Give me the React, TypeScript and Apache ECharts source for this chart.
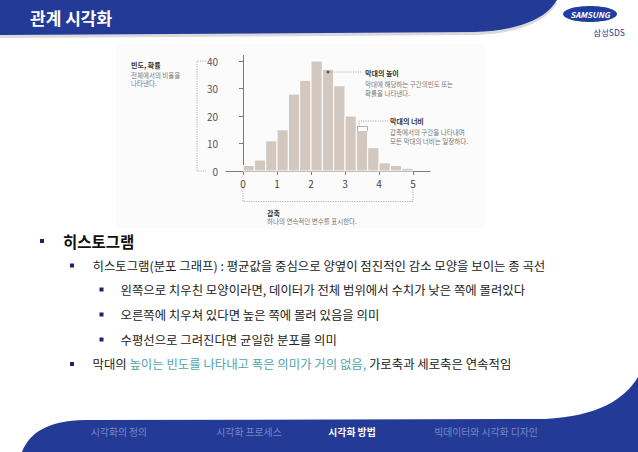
import React, { useEffect, useRef } from 'react';
import * as echarts from 'echarts';

// ---------- data ----------
const slideTitle = '관계 시각화';
const binStarts = [0, 1 / 3, 2 / 3, 1, 4 / 3, 5 / 3, 2, 7 / 3, 8 / 3, 3, 10 / 3, 11 / 3, 4, 13 / 3, 14 / 3];
const binWidth = 1 / 3;
const frequencies = [2, 4, 11, 15, 28, 33, 40, 37, 31, 20, 15, 8.5, 3, 2, 1];
const xTickValues = [0, 1, 2, 3, 4, 5];
const yTickValues = [0, 10, 20, 30, 40];

const yNoteTitle = '빈도, 확률';
const yNoteLines = ['전체에서의 비율을', '나타낸다.'];
const heightNoteTitle = '막대의 높이';
const heightNoteLines = ['막대에 해당하는 구간의빈도 또는', '확률을 나타낸다.'];
const widthNoteTitle = '막대의 너비';
const widthNoteLines = ['갑축에서의 구간을 나타내며', '모든 막대의 너비는 일정하다.'];
const xNoteTitle = '갑축';
const xNoteLine = '하나의 연속적인 변수를 표시한다.';

const headingText = '히스토그램';
const line2Text = '히스토그램(분포 그래프) : 평균값을 중심으로 양옆이 점진적인 감소 모양을 보이는 종 곡선';
const subLines = [
  '왼쪽으로 치우친 모양이라면, 데이터가 전체 범위에서 수치가 낮은 쪽에 몰려있다',
  '오른쪽에 치우쳐 있다면 높은 쪽에 몰려 있음을 의미',
  '수평선으로 그려진다면 균일한 분포를 의미',
];
const line6Parts = ['막대의 ', '높이는 빈도를 나타내고 폭은 의미가 거의 없음,', ' 가로축과 세로축은 연속적임'];
const footerItems = ['시각화의 정의', '시각화 프로세스', '시각화 방법', '빅데이터와 시각화 디자인'];
const footerCenters = [119, 249, 352, 486];
const activeFooter = 2;

const FONT = '"Noto Sans CJK KR", "Noto Sans", sans-serif';
const BLUE = '#243a97';
const BODY_SIZE = 12.4;

let registered = false;
function registerShapes() {
  if (registered) return;
  registered = true;
  echarts.graphic.registerShape(
    'headerBand',
    echarts.graphic.extendPath('M0 0 L557 0 C547 17 524 30 474 32 L0 35 Z', {})
  );
  echarts.graphic.registerShape(
    'footerBand',
    echarts.graphic.extendPath('M22 452 C30 432 48 421 85 420 L545 419 C598 416 624 400 638 377 L638 452 Z', {})
  );
}

function txt(text: string, x: number, y: number, size: number, color: string, weight: string = 'normal', align: string = 'left', extra: any = {}) {
  return {
    type: 'text',
    x,
    y,
    silent: true,
    z: 10,
    style: {
      text,
      fill: color,
      fontSize: size,
      fontFamily: FONT,
      fontWeight: weight,
      textAlign: align,
      textVerticalAlign: 'middle',
      ...extra,
    },
  };
}

function bullet(cx: number, cy: number) {
  return {
    type: 'rect',
    silent: true,
    shape: { x: cx - 2, y: cy - 2, width: 4, height: 4 },
    style: { fill: '#1a2468' },
  };
}

function dotted(points: number[][]) {
  return {
    type: 'polyline',
    silent: true,
    z: 8,
    shape: { points },
    style: { stroke: '#9a9a9a', lineWidth: 0.8, lineDash: [1.2, 1.2], fill: null },
  };
}

export default function App() {
  const ref = useRef<HTMLDivElement>(null);

  useEffect(() => {
    if (!ref.current) return;
    registerShapes();
    const chart = echarts.init(ref.current, null, { renderer: 'svg' });

    const histData = binStarts.map((s, i) => [s, s + binWidth, frequencies[i]]);

    const graphics: any[] = [
      // figure background
      { type: 'rect', silent: true, z: -10, shape: { x: 116, y: 44, width: 370, height: 184 }, style: { fill: '#fbfbfb' } },
      // header shadow + band
      { type: 'headerBand', x: 0, y: 3, silent: true, style: { fill: '#d9d9de' } },
      { type: 'headerBand', x: 0, y: 0, silent: true, style: { fill: BLUE } },
      txt(slideTitle, 30, 17, 17, '#ffffff', 'bold'),
      // logo
      { type: 'ellipse', silent: true, shape: { cx: 590, cy: 14, rx: 27, ry: 8 }, style: { fill: '#1f3fa0' } },
      txt('SAMSUNG', 590, 14.5, 8, '#ffffff', 'bold', 'center', { fontStyle: 'italic' }),
      txt('삼성SDS', 609, 32, 8.5, '#1d3d8f', 'normal', 'center'),
      // footer
      { type: 'footerBand', x: 0, y: 0, silent: true, style: { fill: BLUE } },
      ...footerItems.map((t, i) =>
        txt(t, footerCenters[i], 432, 9.8, i === activeFooter ? '#ffffff' : '#7a88c6', i === activeFooter ? 'bold' : 'normal', 'center')
      ),
      // y annotation
      txt(yNoteTitle, 131, 65, 7, '#333333', 'bold'),
      ...yNoteLines.map((t, i) => txt(t, 131, 74.5 + i * 8.5, 6.5, '#777777')),
      dotted([[206, 61], [197, 61], [197, 171], [206, 171]]),
      // bar height annotation
      { type: 'circle', silent: true, z: 9, shape: { cx: 328, cy: 72, r: 1.4 }, style: { fill: '#555555' } },
      dotted([[329, 72], [362, 72]]),
      txt(heightNoteTitle, 365, 73, 7, '#333333', 'bold'),
      ...heightNoteLines.map((t, i) => txt(t, 365, 84 + i * 9, 6.5, '#777777')),
      // bar width annotation
      { type: 'rect', silent: true, z: 8, shape: { x: 357.5, y: 126.5, width: 10, height: 4.5 }, style: { fill: '#ffffff' } },
      {
        type: 'polyline', silent: true, z: 9,
        shape: { points: [[357.5, 131], [357.5, 126.5], [367.5, 126.5], [367.5, 131]] },
        style: { stroke: '#999999', lineWidth: 0.8, fill: null },
      },
      dotted([[359, 126.5], [359, 121], [388, 121]]),
      txt(widthNoteTitle, 390, 121, 7, '#333333', 'bold'),
      ...widthNoteLines.map((t, i) => txt(t, 390, 132 + i * 9, 6.5, '#777777')),
      // x annotation
      dotted([[243, 188], [243, 201.5], [413, 201.5], [413, 188]]),
      txt(xNoteTitle, 267, 212.5, 7, '#333333', 'bold'),
      txt(xNoteLine, 267, 221, 6.5, '#777777'),
      // body text
      bullet(42, 241),
      txt(headingText, 63, 241, 15.5, '#111111', 'bold'),
      bullet(72, 265.5),
      txt(line2Text, 92.5, 265.5, BODY_SIZE, '#222222'),
      ...subLines.flatMap((t, i) => {
        const y = [289.5, 314.5, 339.5][i];
        return [bullet(101.5, y), txt(t, 120.5, y, BODY_SIZE, '#222222')];
      }),
      bullet(72, 364),
      {
        type: 'text', x: 92.5, y: 364, silent: true, z: 10,
        style: {
          text: `{a|${line6Parts[0]}}{b|${line6Parts[1]}}{a|${line6Parts[2]}}`,
          textVerticalAlign: 'middle',
          fontFamily: FONT,
          fontSize: BODY_SIZE,
          rich: {
            a: { fill: '#222222', fontSize: BODY_SIZE, fontFamily: FONT },
            b: { fill: '#4fa3b3', fontSize: BODY_SIZE, fontFamily: FONT },
          },
        },
      },
    ];

    chart.setOption({
      animation: false,
      backgroundColor: '#ffffff',
      grid: { left: 226, right: 208, top: 55.5, bottom: 281, containLabel: false },
      xAxis: {
        type: 'value',
        min: -0.5,
        max: 5.5,
        axisLine: { show: true, lineStyle: { color: '#7a7a7a', width: 1 } },
        axisTick: { show: true, customValues: xTickValues, length: 4, lineStyle: { color: '#7a7a7a' } },
        axisLabel: { customValues: xTickValues, color: '#444444', fontSize: 10, fontFamily: FONT, margin: 7 },
        splitLine: { show: false },
      },
      yAxis: {
        type: 'value',
        min: 0,
        max: 42,
        axisLine: { show: true, lineStyle: { color: '#7a7a7a', width: 1 } },
        axisTick: { show: true, customValues: yTickValues, length: 4, lineStyle: { color: '#7a7a7a' } },
        axisLabel: { customValues: yTickValues, color: '#555555', fontSize: 10, fontFamily: FONT, margin: 8 },
        splitLine: { show: false },
      },
      series: [
        {
          type: 'custom',
          data: histData,
          encode: { x: [0, 1], y: 2 },
          z: 2,
          renderItem: (params: any, api: any) => {
            const x0 = api.value(0);
            const x1 = api.value(1);
            const h = api.value(2);
            const pTop = api.coord([x0, h]);
            const pBot = api.coord([x1, 0]);
            return {
              type: 'rect',
              shape: { x: pTop[0], y: pTop[1], width: pBot[0] - pTop[0], height: pBot[1] - pTop[1] },
              style: { fill: '#d3c8bf', stroke: '#ffffff', lineWidth: 1 },
            };
          },
        },
      ],
      graphic: { elements: graphics },
    });

    return () => {
      chart.dispose();
    };
  }, []);

  return <div ref={ref} style={{ position: 'fixed', left: 0, top: 0, width: 638, height: 452 }} />;
}
